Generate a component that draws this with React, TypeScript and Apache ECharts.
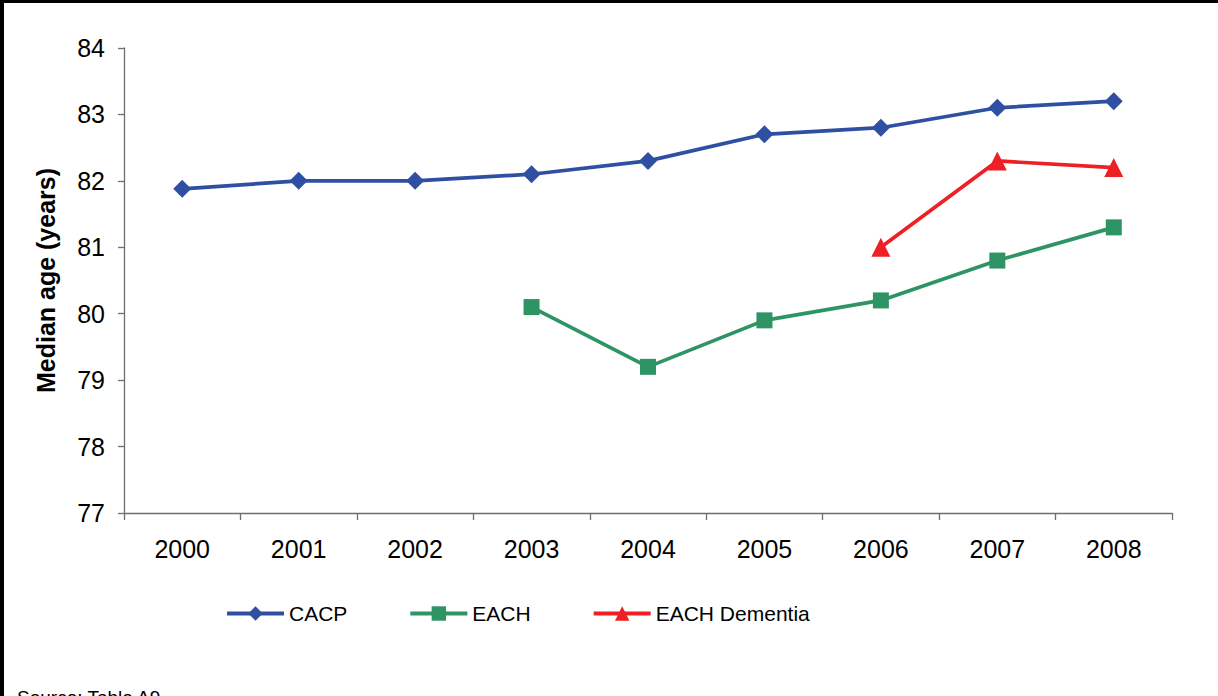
import React, { useEffect, useRef } from "react";
import * as echarts from "echarts";

const years = ["2000", "2001", "2002", "2003", "2004", "2005", "2006", "2007", "2008"];
const cacp = [81.88, 82.0, 82.0, 82.1, 82.3, 82.7, 82.8, 83.1, 83.2];
const each = [null, null, null, 80.1, 79.2, 79.9, 80.2, 80.8, 81.3];
const eachDementia = [null, null, null, null, null, null, 81.0, 82.3, 82.2];
const seriesNames = ["CACP", "EACH", "EACH Dementia"];
const yAxisName = "Median age (years)";
const sourceText = "Source: Table A9";

const FONT = "'Liberation Sans', Arial, sans-serif";

export default function App() {
  const ref = useRef<HTMLDivElement>(null);
  useEffect(() => {
    document.body.style.margin = "0";
    const chart = echarts.init(ref.current!, null, { renderer: "svg" });
    chart.setOption({
      animation: false,
      backgroundColor: "#ffffff",
      textStyle: { fontFamily: FONT },
      grid: { left: 124, right: 46, top: 48, bottom: 183 },
      legend: {
        left: 225,
        top: 603,
        padding: 0,
        itemWidth: 57,
        itemHeight: 18,
        itemGap: 61,
        lineStyle: { width: 4 },
        textStyle: { fontFamily: FONT, fontSize: 21, color: "#000" },
        data: seriesNames,
      },
      xAxis: {
        type: "category",
        data: years,
        boundaryGap: true,
        axisLine: { lineStyle: { color: "#6e6e6e", width: 1.3 } },
        axisTick: { show: true, length: 7, lineStyle: { color: "#6e6e6e", width: 1.3 } },
        axisLabel: { fontFamily: FONT, fontSize: 25, color: "#000", margin: 23 },
        splitLine: { show: false },
      },
      yAxis: {
        type: "value",
        min: 77,
        max: 84,
        interval: 1,
        name: yAxisName,
        nameLocation: "middle",
        nameGap: 66,
        nameTextStyle: { fontFamily: FONT, fontSize: 25, fontWeight: "bold", color: "#000" },
        axisLine: { show: true, lineStyle: { color: "#6e6e6e", width: 1.3 } },
        axisTick: { show: true, length: 6, lineStyle: { color: "#6e6e6e", width: 1.3 } },
        axisLabel: { fontFamily: FONT, fontSize: 25, color: "#000", margin: 19 },
        splitLine: { show: false },
      },
      series: [
        {
          name: seriesNames[0],
          type: "line",
          data: cacp,
          symbol: "diamond",
          symbolSize: 18,
          lineStyle: { color: "#2f4fa2", width: 3.7 },
          itemStyle: { color: "#2f4fa2" },
        },
        {
          name: seriesNames[1],
          type: "line",
          data: each,
          symbol: "rect",
          symbolSize: 16,
          lineStyle: { color: "#2e9464", width: 3.7 },
          itemStyle: { color: "#2e9464" },
        },
        {
          name: seriesNames[2],
          type: "line",
          data: eachDementia,
          symbol: "triangle",
          symbolSize: 19,
          lineStyle: { color: "#ee2026", width: 3.7 },
          itemStyle: { color: "#ee2026" },
        },
      ],
      graphic: [
        { type: "rect", left: 0, top: 0, shape: { width: 1218, height: 3 }, style: { fill: "#000" } },
        { type: "rect", left: 0, top: 0, shape: { width: 4, height: 696 }, style: { fill: "#000" } },
        {
          type: "text",
          left: 17,
          top: 688,
          style: { text: sourceText, fontFamily: FONT, fontSize: 19, fill: "#000" },
        },
      ],
    });
    return () => chart.dispose();
  }, []);
  return <div ref={ref} style={{ width: 1218, height: 696 }} />;
}
